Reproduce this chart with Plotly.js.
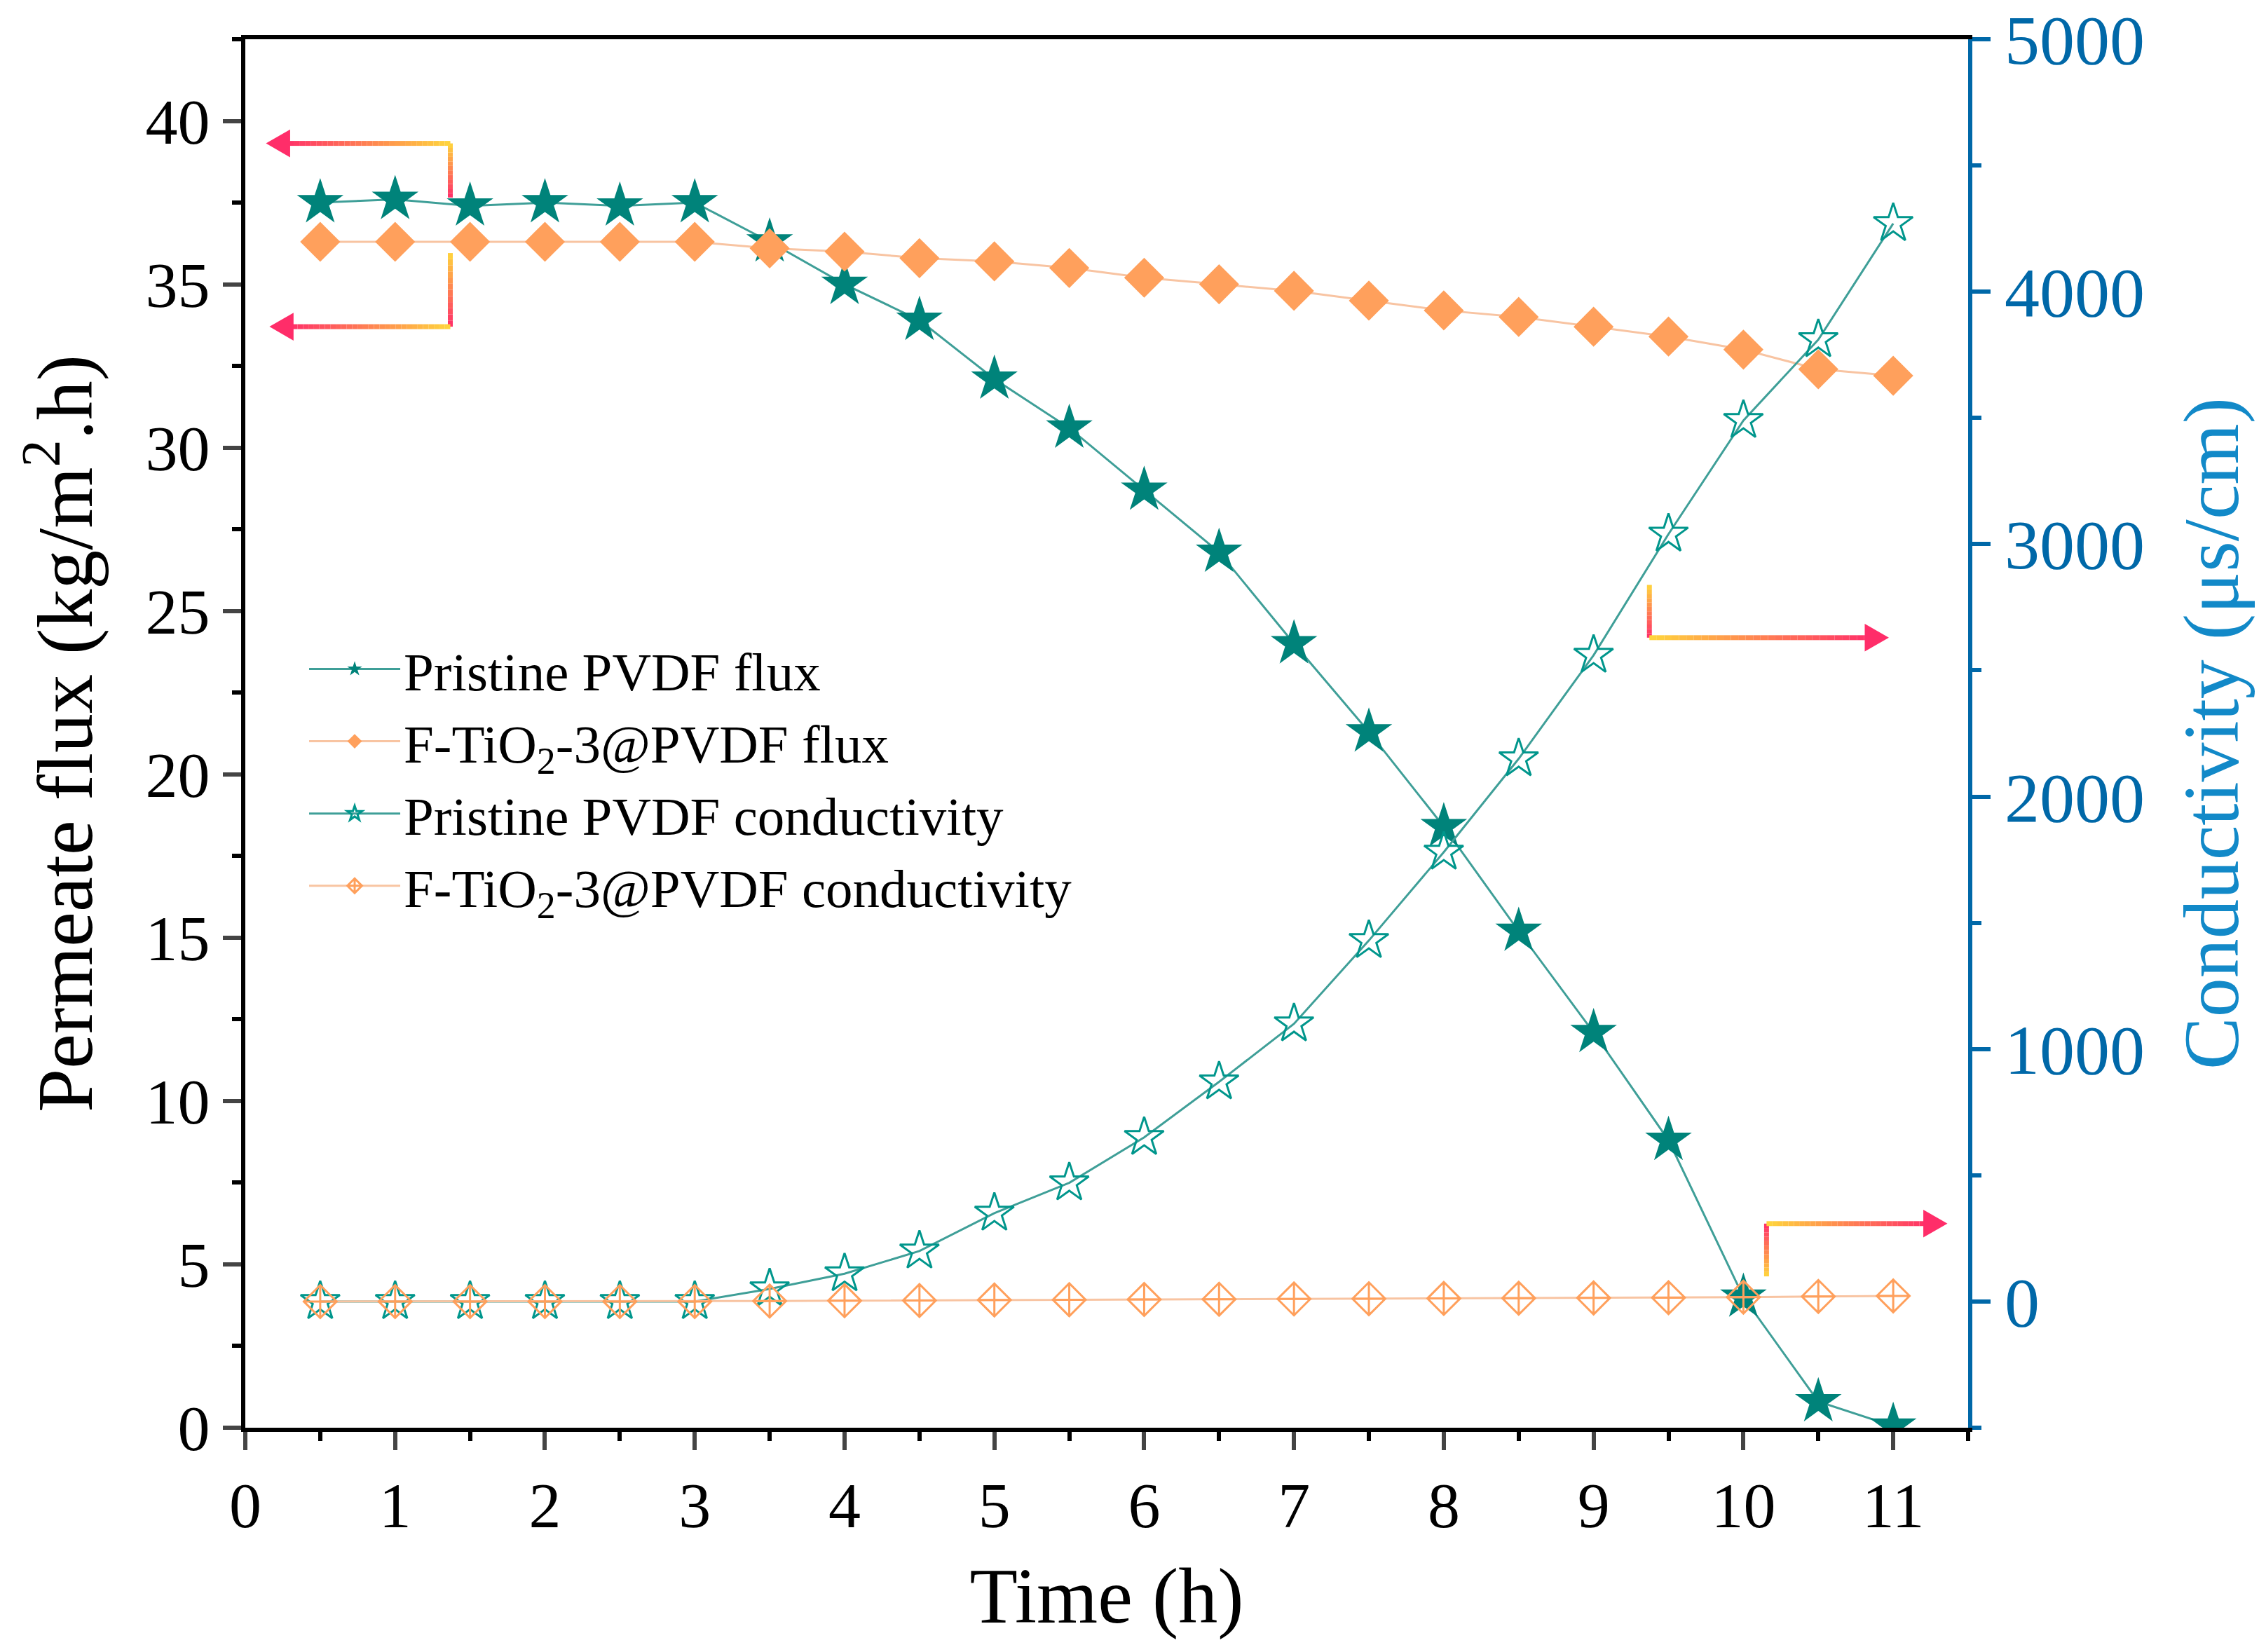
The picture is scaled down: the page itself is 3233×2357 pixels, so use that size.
<!DOCTYPE html>
<html>
<head>
<meta charset="utf-8">
<script src="https://cdn.plot.ly/plotly-3.0.1.min.js"></script>
<style>html,body{margin:0;padding:0;background:#fff}</style>
</head>
<body>
<div id="chart" style="width:3233px;height:2357px"></div>
<script>
// ---- data ----
const timeH = [0.5,1,1.5,2,2.5,3,3.5,4,4.5,5,5.5,6,6.5,7,7.5,8,8.5,9,9.5,10,10.5,11];
const pristineFlux = [37.5,37.6,37.4,37.5,37.4,37.5,36.3,35.0,33.9,32.1,30.6,28.7,26.8,24.0,21.3,18.4,15.2,12.1,8.8,4.0,0.8,0.05];
const ftio2Flux = [36.3,36.3,36.3,36.3,36.3,36.3,36.1,36.0,35.8,35.7,35.5,35.2,35.0,34.8,34.5,34.2,34.0,33.7,33.4,33.0,32.4,32.2];
const pristineCond = [0,0,0,0,0,0,50,110,200,350,470,650,870,1100,1430,1780,2150,2560,3040,3490,3810,4270];
const ftio2Cond = [0,0,0,0,0,0,2,3,4,6,7,8,9,10,11,12,13,14,15,17,20,22];
const seriesNames = ["Pristine PVDF flux","F-TiO<sub>2</sub>-3@PVDF flux","Pristine PVDF conductivity","F-TiO<sub>2</sub>-3@PVDF conductivity"];
const xTitle = "Time (h)";
const yTitle = "Permeate flux (kg/m<sup>2</sup>.h)";
const y2Title = "Conductivity (μs/cm)";

const FONT = "Liberation Serif, Times New Roman, serif";
const TEAL = "#00837a", TEAL_LINE = "#3f9f98";
const ORANGE = "#ffa05c", ORANGE_LINE = "#f8c4a2";
const BLUE = "#0068a8", BLUE_TITLE = "#1289c8";

const traces = [
  {x: timeH, y: pristineFlux, name: seriesNames[0], type: "scatter", mode: "lines+markers",
   line: {color: TEAL_LINE, width: 3}, marker: {symbol: "star", size: 50, color: TEAL}},
  {x: timeH, y: pristineCond, name: seriesNames[2], type: "scatter", mode: "lines+markers", yaxis: "y2",
   line: {color: TEAL_LINE, width: 3}, marker: {symbol: "star-open", size: 42, color: "#00968c", line: {width: 3, color: "#00968c"}}},
  {x: timeH, y: ftio2Flux, name: seriesNames[1], type: "scatter", mode: "lines+markers",
   line: {color: ORANGE_LINE, width: 3}, marker: {symbol: "diamond", size: 44, color: ORANGE}},
  {x: timeH, y: ftio2Cond, name: seriesNames[3], type: "scatter", mode: "lines+markers", yaxis: "y2",
   line: {color: ORANGE_LINE, width: 3}, marker: {symbol: "diamond-cross-open", size: 36, color: ORANGE, line: {width: 3, color: ORANGE}}}
];
// legend order
traces[0].legendrank = 1; traces[2].legendrank = 2; traces[1].legendrank = 3; traces[3].legendrank = 4;

// gradient arrow helpers (decoration, paper coordinates)
const PINK = [255, 45, 105], YELLOW = [255, 214, 60];
function mix(a, b, t) { return "rgb(" + a.map((v, i) => Math.round(v + (b[i] - v) * t)).join(",") + ")"; }
function gradLine(x0, y0, x1, y1, c0, c1, n, w) {
  const s = [];
  for (let i = 0; i < n; i++) {
    const t0 = i / n, t1 = (i + 1) / n;
    s.push({type: "line", xref: "paper", yref: "paper",
      x0: x0 + (x1 - x0) * t0, y0: y0 + (y1 - y0) * t0,
      x1: x0 + (x1 - x0) * t1, y1: y0 + (y1 - y0) * t1,
      line: {color: mix(c0, c1, (t0 + t1) / 2), width: w}});
  }
  return s;
}
function head(xTip, y, dir) {
  const L = 0.014, H = 0.02;
  const xb = xTip - dir * L;
  return {type: "path", xref: "paper", yref: "paper",
    path: `M ${xTip} ${y} L ${xb} ${y + H / 2} L ${xb} ${y - H / 2} Z`,
    fillcolor: mix(PINK, PINK, 0), line: {width: 0}};
}
let shapes = [];
// top-left arrow
shapes = shapes.concat(gradLine(0.119, 0.886, 0.119, 0.925, PINK, YELLOW, 12, 7));
shapes = shapes.concat(gradLine(0.119, 0.925, 0.022, 0.925, YELLOW, PINK, 30, 7));
shapes.push(head(0.012, 0.925, -1));
// bottom-left arrow
shapes = shapes.concat(gradLine(0.119, 0.846, 0.119, 0.793, YELLOW, PINK, 12, 7));
shapes = shapes.concat(gradLine(0.119, 0.793, 0.024, 0.793, YELLOW, PINK, 30, 7));
shapes.push(head(0.014, 0.793, -1));
// middle-right arrow
shapes = shapes.concat(gradLine(0.815, 0.607, 0.815, 0.569, YELLOW, PINK, 12, 7));
shapes = shapes.concat(gradLine(0.815, 0.569, 0.944, 0.569, YELLOW, PINK, 30, 7));
shapes.push(head(0.954, 0.569, 1));
// bottom-right arrow
shapes = shapes.concat(gradLine(0.883, 0.109, 0.883, 0.147, YELLOW, PINK, 12, 7));
shapes = shapes.concat(gradLine(0.883, 0.147, 0.978, 0.147, YELLOW, PINK, 30, 7));
shapes.push(head(0.988, 0.147, 1));

const layout = {
  width: 3233, height: 2357,
  margin: {l: 350, r: 425, t: 56, b: 320},
  paper_bgcolor: "#fff", plot_bgcolor: "#fff",
  font: {family: FONT, color: "#000", size: 90},
  showlegend: true,
  legend: {x: 0.035, y: 0.575, xanchor: "left", yanchor: "top", bgcolor: "rgba(0,0,0,0)",
    font: {family: FONT, size: 77, color: "#000"}, itemwidth: 130, itemsizing: "trace", traceorder: "normal"},
  xaxis: {range: [0, 11.5], dtick: 1, tick0: 0, ticks: "outside", ticklen: 26, tickwidth: 6,
    showline: true, linewidth: 6, linecolor: "#000", mirror: true, showgrid: false, zeroline: false,
    tickfont: {family: FONT, size: 92, color: "#000"},
    minor: {dtick: 0.5, ticks: "outside", ticklen: 13, tickwidth: 6, tickcolor: "#000"},
    title: {text: xTitle, font: {family: FONT, size: 112, color: "#000"}, standoff: 40}},
  yaxis: {range: [0, 42.5], dtick: 5, tick0: 0, ticks: "outside", ticklen: 26, tickwidth: 6,
    showline: true, linewidth: 6, linecolor: "#000", showgrid: false, zeroline: false,
    tickfont: {family: FONT, size: 92, color: "#000"},
    minor: {dtick: 2.5, ticks: "outside", ticklen: 13, tickwidth: 6, tickcolor: "#000"},
    title: {text: yTitle, font: {family: FONT, size: 112, color: "#000"}, standoff: 40}},
  yaxis2: {overlaying: "y", side: "right", range: [-500, 5000], dtick: 1000, tick0: 0,
    ticks: "outside", ticklen: 26, tickwidth: 6, tickcolor: BLUE,
    showline: true, linewidth: 6, linecolor: BLUE, showgrid: false, zeroline: false,
    tickfont: {family: FONT, size: 100, color: BLUE},
    minor: {dtick: 500, ticks: "outside", ticklen: 13, tickwidth: 6, tickcolor: BLUE},
    title: {text: y2Title, font: {family: FONT, size: 112, color: BLUE_TITLE}, standoff: 58}},
  shapes: shapes
};

Plotly.newPlot("chart", traces, layout, {staticPlot: true, displayModeBar: false});
</script>
</body>
</html>
